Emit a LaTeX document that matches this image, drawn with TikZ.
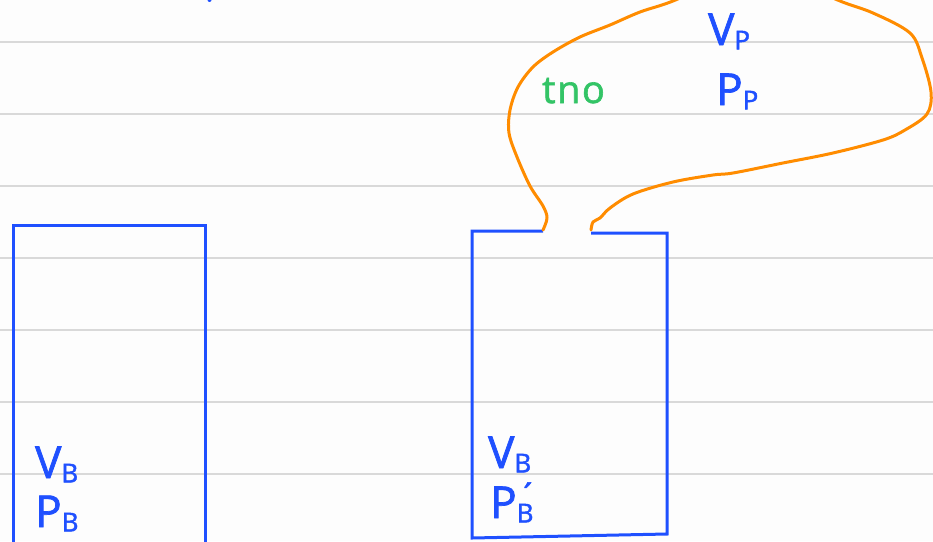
\documentclass[tikz,border=0pt]{standalone}
\usepackage{fontspec}
\setmainfont{Open Sans}
\definecolor{ink}{HTML}{1F50FF}
\definecolor{balloon}{HTML}{FF8C00}
\definecolor{note}{HTML}{33C466}
\definecolor{ruling}{HTML}{D9D9D9}
\definecolor{paper}{HTML}{FDFDFD}
% subscript that sits only slightly below the baseline, as written by hand
\newcommand\lowsub[1]{\raisebox{-0.1em}{\fontsize{26}{26}\selectfont #1}}
\tikzset{
  rule/.style={ruling, line width=2pt},
  vessel/.style={ink, line width=3pt, line join=miter},
  blob/.style={balloon, line width=3pt, line cap=round, line join=round},
  lbl/.style={ink, inner sep=0pt, anchor=base west,
    font=\addfontfeature{FakeBold=1.6}\fontsize{44}{46}\selectfont},
  tag/.style={note, inner sep=0pt, anchor=base west,
    font=\addfontfeature{FakeBold=1.6,LetterSpace=4}\fontsize{38}{38}\selectfont}
}
\begin{document}
\begin{tikzpicture}[x=1pt,y=-1pt]
\useasboundingbox (0,0) rectangle (933,541);
\fill[paper] (0,0) rectangle (933,541);
\begin{scope}
\clip (0,0) rectangle (933,541);
% ruled paper
\foreach \yy in {42,114,186,258,330,402,474}
  \draw[rule] (0,\yy) -- (933,\yy);
% left vessel, open past the bottom edge
\draw[vessel] (13,560) -- (13,225) -- (205,225) -- (205,560);
% right vessel with its neck opening at the top
\draw[vessel] (543,231) -- (472,231) -- (472,538) -- (667,534) -- (667,233) -- (591,233);
% balloon attached to the neck
\draw[blob] plot[smooth, tension=0.55] coordinates {
  (543,230) (547,218) (543,206) (530,186) (517,157) (509,133) (510,110)
  (518,87) (533,67) (553,52) (580,37) (610,25) (640,12) (680,-2) (755,-40)
  (833,-2) (873,13) (910,33) (922,58) (931,92) (927,114) (905,130)
  (883,140) (833,153) (783,163) (733,173) (713,175) (673,182) (633,194)
  (610,208) (600,218) (593,222) (591,230)};
% stray ink at the top edge
\fill[ink] (209.5,0) circle (2pt);
\end{scope}
% labels
\node[lbl] (vb) at (35,478) {V\lowsub{B}};
\node[lbl] (pb) at (35,527) {P\lowsub{B}};
\node[lbl] (vb2) at (488,468) {V\lowsub{B}};
\node[lbl] (pb2) at (490,518) {P\lowsub{\rlap{\kern0.05em\raisebox{14pt}{\fontsize{34}{34}\selectfont\symbol{"00B4}}}B}};
\node[lbl] (vp) at (708,45) {V\lowsub{P}};
\node[lbl] (pp) at (716,105) {P\lowsub{P}};
\node[tag] (tn) at (542,103) {tno};
\end{tikzpicture}
\end{document}
